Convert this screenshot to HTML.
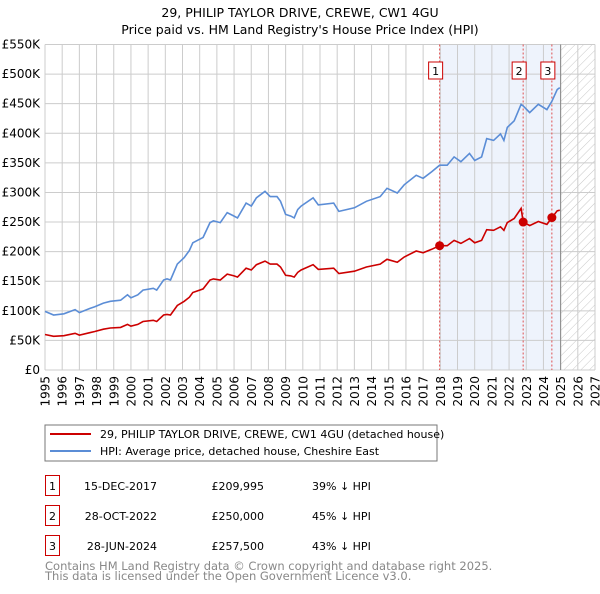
<!DOCTYPE html>
<html><head><meta charset="utf-8"><style>
body{margin:0;background:#fff;font-family:"DejaVu Sans","Liberation Sans",sans-serif;}
svg text{font-family:"DejaVu Sans","Liberation Sans",sans-serif;}
</style></head><body>
<svg id="chart" width="600" height="590" viewBox="0 0 600 590" xmlns="http://www.w3.org/2000/svg">
<defs><pattern id="hatch" width="6" height="6" patternUnits="userSpaceOnUse" patternTransform="rotate(45)"><line x1="0" y1="0" x2="0" y2="6" stroke="#c8c8c8" stroke-width="1"/></pattern></defs>
<text x="300" y="17" text-anchor="middle" font-size="12.5">29, PHILIP TAYLOR DRIVE, CREWE, CW1 4GU</text>
<text x="300" y="34" text-anchor="middle" font-size="12.5">Price paid vs. HM Land Registry's House Price Index (HPI)</text>
<g id="plot"></g>
<rect x="45" y="425" width="392" height="36" fill="#fff" stroke="#777"/>
<line x1="50" y1="434" x2="91" y2="434" stroke="#cc0000" stroke-width="2"/>
<text x="100" y="438" font-size="11">29, PHILIP TAYLOR DRIVE, CREWE, CW1 4GU (detached house)</text>
<line x1="50" y1="451" x2="91" y2="451" stroke="#5b8dd6" stroke-width="2"/>
<text x="100" y="455" font-size="11">HPI: Average price, detached house, Cheshire East</text>
<g id="table" font-size="11"></g>
<text x="45" y="570" font-size="11.5" fill="#888">Contains HM Land Registry data © Crown copyright and database right 2025.</text>
<text x="45" y="580" font-size="11.5" fill="#888">This data is licensed under the Open Government Licence v3.0.</text>
</svg>
<script>
const years=[1995.0,1995.5,1996.1,1996.75,1997.0,1997.6,1997.9,1998.4,1998.8,1999.4,1999.8,2000.0,2000.4,2000.7,2001.3,2001.5,2001.9,2002.1,2002.3,2002.7,2003.1,2003.4,2003.6,2004.2,2004.6,2004.8,2005.2,2005.6,2006.0,2006.2,2006.7,2007.0,2007.3,2007.8,2008.1,2008.5,2008.7,2009.0,2009.3,2009.5,2009.7,2009.9,2010.6,2010.9,2011.8,2012.1,2013.0,2013.7,2014.5,2014.9,2015.5,2015.9,2016.6,2017.0,2017.5,2017.96,2018.4,2018.8,2019.2,2019.7,2020.0,2020.4,2020.7,2021.1,2021.5,2021.7,2021.9,2022.3,2022.7,2022.82,2023.2,2023.7,2024.2,2024.49,2024.8,2024.95];
const hpi=[99,93,95,102,97,104,107,113,116,118,127,122,127,135,138,135,152,154,152,179,190,202,215,224,249,252,249,266,260,257,282,277,291,302,293,293,285,263,260,257,271,277,291,279,282,268,274,285,293,307,299,313,329,324,335,346,346,360,352,366,354,360,391,388,399,388,410,421,449,446,435,449,440,454,474,477];
const paid=[60,57,58,62,59,63,65,69,71,72,77,74,77,82,84,82,93,94,93,109,116,123,131,137,152,154,152,162,159,157,172,169,178,184,179,179,174,160,159,157,165,169,178,170,172,163,167,174,179,187,182,191,201,198,204,210,210,219,214,222,215,219,237,236,242,236,249,256,273,250,244,251,246,257.5,269,270];
const saleYears=[2017.96,2022.82,2024.49];
const salePrices=[209.995,250,257.5];
const saleDates=["15-DEC-2017","28-OCT-2022","28-JUN-2024"];
const salePriceLabels=["£209,995","£250,000","£257,500"];
const salePct=["39% ↓ HPI","45% ↓ HPI","43% ↓ HPI"];
const yTicks=[0,50,100,150,200,250,300,350,400,450,500,550];
const yTickLabels=["£0","£50K","£100K","£150K","£200K","£250K","£300K","£350K","£400K","£450K","£500K","£550K"];
const xTicks=[1995,1996,1997,1998,1999,2000,2001,2002,2003,2004,2005,2006,2007,2008,2009,2010,2011,2012,2013,2014,2015,2016,2017,2018,2019,2020,2021,2022,2023,2024,2025,2026,2027];
const dataEnd=2025.0;

const NS="http://www.w3.org/2000/svg";
const X0=45,X1=595,Y0=370,Y1=44.5;
const xs=y=>X0+(y-1995)/(2027-1995)*(X1-X0);
const ys=v=>Y0-v/550*(Y0-Y1);
const plot=document.getElementById('plot');
function mk(tag,attrs,parent){const e=document.createElementNS(NS,tag);for(const k in attrs)e.setAttribute(k,attrs[k]);(parent||plot).appendChild(e);return e;}

let r=mk('rect',{x:xs(saleYears[0]),y:Y1,width:xs(dataEnd)-xs(saleYears[0]),height:Y0-Y1,fill:'#eef3fc'});


r=mk('rect',{x:xs(dataEnd),y:Y1,width:X1-xs(dataEnd),height:Y0-Y1,fill:'url(#hatch)'});


yTicks.forEach((t,i)=>{
  const l=mk('line',{x1:X0,x2:X1,y1:ys(t),y2:ys(t),stroke:'#cccccc'});
  
  
  const tx=mk('text',{x:40,y:ys(t)+4,'text-anchor':'end','font-size':'12'});
  tx.textContent=yTickLabels[i];
  
  
});
xTicks.forEach(t=>{
  const l=mk('line',{x1:xs(t),x2:xs(t),y1:Y1,y2:Y0,stroke:'#cccccc'});
  
  
  const tx=mk('text',{x:0,y:0,'text-anchor':'end','font-size':'12',transform:`translate(${xs(t)+4.5},${Y0+6}) rotate(-90)`});
  tx.textContent=t;
  
  
});
const vl=mk('line',{x1:xs(dataEnd),x2:xs(dataEnd),y1:Y1,y2:Y0,stroke:'#888'});


saleYears.forEach((s,i)=>{
  const l=mk('line',{x1:xs(s),x2:xs(s),y1:Y1,y2:Y0,stroke:'#e05050','stroke-dasharray':'2,2'});
  
  
  const bx=mk('rect',{x:xs(s)-11,y:62,width:14,height:17,fill:'#fff',stroke:'#cc0000'});
  
  
  const t=mk('text',{x:xs(s)-4,y:75,'text-anchor':'middle','font-size':'11'});
  t.textContent=i+1;
  
  
});
const path=(vals)=>years.map((y,i)=>(i?'L':'M')+xs(y).toFixed(1)+','+ys(vals[i]).toFixed(1)).join(' ');
let p=mk('path',{d:path(hpi),fill:'none',stroke:'#5b8dd6','stroke-width':'1.6'});


p=mk('path',{d:path(paid),fill:'none',stroke:'#cc0000','stroke-width':'1.6'});


saleYears.forEach((s,i)=>{
  const c=mk('circle',{cx:xs(s),cy:ys(salePrices[i]),r:4.5,fill:'#cc0000'});
  
  
});
const tb=document.getElementById('table');
saleYears.forEach((s,i)=>{
  const cy=487+30*i;
  const b=mk('rect',{x:45.5,y:cy-11.5,width:14,height:20,fill:'#fff',stroke:'#cc0000'},tb);
  
  
  const cells=[[52.5,'middle',String(i+1)],[157,'end',saleDates[i]],[264,'end',salePriceLabels[i]],[312,'start',salePct[i]]];
  cells.forEach((c,j)=>{
    const t=mk('text',{x:c[0],y:cy+3,'text-anchor':c[1]},tb);
    t.textContent=c[2];
    
    
  });
});
</script>
</body></html>
